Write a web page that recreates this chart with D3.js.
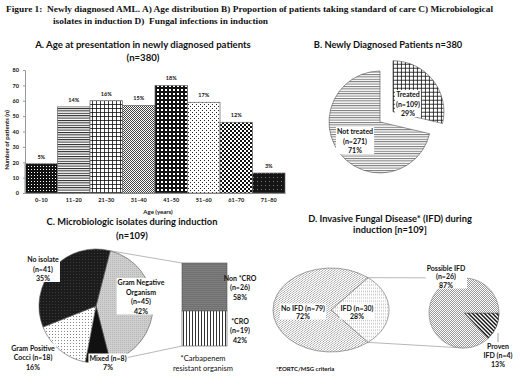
<!DOCTYPE html>
<html>
<head>
<meta charset="utf-8">
<script src="https://cdn.jsdelivr.net/npm/d3@7"></script>
<style>
  body { margin: 0; background: #fff; }
  svg { display: block; }
  text { font-family: Lato, "Open Sans", sans-serif; font-weight: bold; fill: #111; }
</style>
</head>
<body>
<svg id="chart"></svg>
<script>
// A. age distribution
const ageGroups = ["0–10", "11–20", "21–30", "31–40", "41–50", "51–60", "61–70", "71–80"];
const ageCounts = [19, 56, 60, 57, 70, 59, 46, 13];
const agePct = ["5%", "14%", "16%", "15%", "18%", "17%", "12%", "3%"];
const yTicks = [0, 10, 20, 30, 40, 50, 60, 70, 80];
// B. treated / not treated
const txLabels = ["Treated", "Not treated"];
const txCounts = [109, 271];
const txPct = ["29%", "71%"];
// C. microbiologic isolates
const isoLabels = ["Gram Negative Organism", "Mixed", "Gram Positive Cocci", "No isolate"];
const isoCounts = [45, 8, 18, 41];
const isoPct = [42, 7, 16, 35];
const croLabels = ["Non *CRO", "*CRO"];
const croCounts = [26, 19];
const croPct = [58, 42];
// D. invasive fungal disease
const ifdLabels = ["IFD", "No IFD"];
const ifdCounts = [30, 79];
const ifdPct = [28, 72];
const ifdTypeLabels = ["Proven IFD", "Possible IFD"];
const ifdTypeCounts = [4, 26];
const ifdTypePct = [13, 87];

const W = 520, H = 390;
const svg = d3.select("#chart").attr("width", W).attr("height", H);
svg.append("rect").attr("width", W).attr("height", H).attr("fill", "#fff");
const defs = svg.append("defs");

// small helper for fill patterns
function pattern(id, w, h, bg, shapes) {
    const p = defs.append("pattern").attr("id", id)
        .attr("patternUnits", "userSpaceOnUse")
        .attr("width", w).attr("height", h);
    p.append("rect").attr("width", w).attr("height", h).attr("fill", bg);
    shapes.forEach(s => {
        const el = p.append(s[0]);
        Object.entries(s[1]).forEach(([k, v]) => el.attr(k, v));
    });
}
pattern("dotsDark", 3, 3, "#111", [["rect", {x: 1, y: 1, width: 1, height: 1, fill: "#fff"}]]);
pattern("hlines", 2, 2.4, "#fff", [["rect", {x: 0, y: 0, width: 2, height: 1, fill: "#222"}]]);
pattern("grid", 4, 4, "#fff", [["rect", {x: 0, y: 0, width: 4, height: 0.8, fill: "#111"}], ["rect", {x: 0, y: 0, width: 0.8, height: 4, fill: "#111"}]]);
pattern("checkFine", 2, 2, "#fff", [["rect", {x: 0, y: 0, width: 1, height: 1, fill: "#444"}], ["rect", {x: 1, y: 1, width: 1, height: 1, fill: "#444"}]]);
pattern("plaid", 4, 4, "#111", [["rect", {x: 1, y: 1, width: 2, height: 2, fill: "#fff"}]]);
pattern("dotsSparse", 4, 4, "#fff", [["rect", {x: 0, y: 0, width: 1, height: 1, fill: "#222"}], ["rect", {x: 2, y: 2, width: 1, height: 1, fill: "#222"}]]);
pattern("checkLarge", 4, 4, "#fff", [["rect", {x: 0, y: 0, width: 2, height: 2, fill: "#111"}], ["rect", {x: 2, y: 2, width: 2, height: 2, fill: "#111"}]]);
pattern("dark", 4, 4, "#151515", [["rect", {x: 1, y: 1, width: 1, height: 1, fill: "#777"}]]);
pattern("hlinesGray", 2, 2.4, "#fff", [["rect", {x: 0, y: 0, width: 2, height: 1, fill: "#777"}]]);
pattern("noIso", 3, 3, "#1c1c1c", [["rect", {x: 1, y: 1, width: 1, height: 1, fill: "#3a3a3a"}]]);
pattern("gramNeg", 2, 2, "#cfcfcf", [["rect", {x: 0, y: 0, width: 1, height: 1, fill: "#b5b5b5"}]]);
pattern("gramPos", 3, 3, "#fff", [["rect", {x: 1, y: 1, width: 1, height: 1, fill: "#888"}]]);
pattern("nonCro", 3, 2, "#7e7e7e", [["rect", {x: 0, y: 0, width: 3, height: 1, fill: "#707070"}]]);
pattern("cro", 3, 3, "#fff", [["rect", {x: 0, y: 0, width: 1, height: 3, fill: "#333"}]]);
pattern("diagGray", 3, 3, "#fff", [["path", {d: "M-1,1 l2,-2 M0,3 l3,-3 M2,4 l2,-2", stroke: "#777", "stroke-width": 0.7}]]);
pattern("dotsLight", 2, 2, "#fff", [["rect", {x: 0, y: 0, width: 1, height: 1, fill: "#c8c8c8"}]]);
pattern("checkGray", 2, 2, "#fff", [["rect", {x: 0, y: 0, width: 1, height: 1, fill: "#9a9a9a"}], ["rect", {x: 1, y: 1, width: 1, height: 1, fill: "#9a9a9a"}]]);
pattern("stripes", 4, 4, "#fff", [["path", {d: "M-1,-1 l6,6 M3,-1 l2,2 M-1,3 l2,2", stroke: "#111", "stroke-width": 1.4}]]);

// multi-line text label, optionally on a white box
function label(g, x, y, lines, opt = {}) {
    const lh = opt.lh || 9.5;
    const grp = g.append("g");
    const t = grp.append("text")
        .attr("text-anchor", opt.anchor || "middle")
        .attr("font-size", opt.size || 7)
        .style("font-weight", opt.weight || "bold");
    lines.forEach((s, i) => t.append("tspan").attr("x", x).attr("y", y + i * lh).text(s));
    if (opt.box) {
        const b = t.node().getBBox();
        grp.insert("rect", "text")
            .attr("x", b.x - 1).attr("y", b.y)
            .attr("width", b.width + 2).attr("height", b.height)
            .attr("fill", "#fff");
    }
}
function explode(d, k) {
    const m = (d.startAngle + d.endAngle) / 2;
    return `translate(${k * Math.sin(m)},${-k * Math.cos(m)})`;
}
function outer(a, r, sy = 1) {
    return [r * Math.sin(a), -r * Math.cos(a) * sy];
}

// Figure caption
svg.append("text").attr("x", 6).attr("y", 12)
    .attr("font-size", 8.5).attr("textLength", 487).attr("lengthAdjust", "spacingAndGlyphs")
    .style("font-family", "'Liberation Serif', serif")
    .text("Figure 1:\u00A0\u00A0Newly diagnosed AML. A) Age distribution B) Proportion of patients taking standard of care C) Microbiological");
svg.append("text").attr("x", 53).attr("y", 24)
    .attr("font-size", 8.5).attr("textLength", 215).attr("lengthAdjust", "spacingAndGlyphs")
    .style("font-family", "'Liberation Serif', serif")
    .text("isolates in induction D)\u00A0\u00A0Fungal infections in induction");

// ---------- A. bar chart ----------
const agePatterns = ["dotsDark", "hlines", "grid", "checkFine", "plaid", "dotsSparse", "checkLarge", "dark"];
const x = d3.scaleBand().domain(ageGroups).range([25, 285]).padding(0);
const y = d3.scaleLinear().domain([0, 80]).range([193, 70]);
const gA = svg.append("g");
label(gA, 143, 48, ["A. Age at presentation in newly diagnosed patients", "(n=380)"], {size: 9.6, lh: 13});

gA.selectAll("rect.bar").data(ageGroups).join("rect").attr("class", "bar")
    .attr("x", d => x(d))
    .attr("y", (d, i) => y(ageCounts[i]))
    .attr("width", x.bandwidth())
    .attr("height", (d, i) => y(0) - y(ageCounts[i]))
    .attr("fill", (d, i) => `url(#${agePatterns[i]})`)
    .attr("stroke", "#666").attr("stroke-width", 0.7);
gA.selectAll("text.pct").data(ageGroups).join("text").attr("class", "pct")
    .attr("x", d => x(d) + x.bandwidth() / 2)
    .attr("y", (d, i) => y(ageCounts[i]) - 5)
    .attr("text-anchor", "middle").attr("font-size", 5.5)
    .text((d, i) => agePct[i]);

const yAxis = gA.append("g").attr("transform", "translate(25,0)")
    .call(d3.axisLeft(y).tickValues(yTicks).tickSize(2).tickPadding(4));
yAxis.attr("font-family", null).attr("font-size", 5.5);
yAxis.selectAll("text").attr("fill", "#111");
yAxis.select(".domain").attr("stroke", "#999");
yAxis.selectAll(".tick line").attr("stroke", "#999");
const xAxis = gA.append("g").attr("transform", "translate(0,193)")
    .call(d3.axisBottom(x).tickSize(0).tickPadding(5));
xAxis.attr("font-family", null).attr("font-size", 5.5);
xAxis.selectAll("text").attr("fill", "#111");
xAxis.select(".domain").attr("stroke", "#888");
gA.append("text").attr("transform", "translate(9,140) rotate(-90)")
    .attr("text-anchor", "middle").attr("font-size", 6).text("Number of patients (n)");
gA.append("text").attr("x", 158).attr("y", 214)
    .attr("text-anchor", "middle").attr("font-size", 6).text("Age (years)");

// ---------- B. pie ----------
const gB = svg.append("g");
label(gB, 388, 48, ["B. Newly Diagnosed Patients n=380"], {size: 9.3});
const pieB = d3.pie().sort(null).value(d => d)(txCounts);
const arcB = d3.arc().innerRadius(0).outerRadius(51);
const bPie = gB.append("g").attr("transform", "translate(380,122)");
bPie.selectAll("path").data(pieB).join("path")
    .attr("transform", (d, i) => i === 0 ? explode(d, 16.5) : null)
    .attr("d", arcB)
    .attr("fill", (d, i) => i === 0 ? "url(#grid)" : "url(#hlinesGray)")
    .attr("stroke", "#555").attr("stroke-width", 0.6);
label(gB, 408, 97, [txLabels[0], `(n=${txCounts[0]})`, txPct[0]], {box: true});
label(gB, 355, 134, [txLabels[1], `(n=${txCounts[1]})`, txPct[1]], {box: true});

// ---------- C. bar of pie ----------
const gC = svg.append("g");
label(gC, 132, 225, ["C. Microbiologic isolates during induction", "(n=109)"], {size: 9.3, lh: 14});
const gnAng = isoPct[0] / 100 * 2 * Math.PI;
const cStart = Math.PI / 2 - gnAng / 2;
const pieC = d3.pie().sort(null).value(d => d).startAngle(cStart).endAngle(cStart + 2 * Math.PI)(isoPct);
const rC = 57, cx = 96, cy = 306;
const arcC = d3.arc().innerRadius(0).outerRadius(rC);
const isoFills = ["gramNeg", "mixed", "gramPos", "noIso"];
const cPie = gC.append("g").attr("transform", `translate(${cx},${cy})`);
cPie.selectAll("path").data(pieC).join("path")
    .attr("d", arcC)
    .attr("fill", (d, i) => isoFills[i] === "mixed" ? "#111" : `url(#${isoFills[i]})`)
    .attr("stroke", "#555").attr("stroke-width", 0.6);

// stacked bar for gram negative
const barX = 182, barW = 45;
const yBar = d3.scaleLinear().domain([0, d3.sum(croCounts)]).range([346, 263]);
const croStack = [
    {key: "nonCro", lo: croCounts[1], hi: croCounts[1] + croCounts[0]},
    {key: "cro", lo: 0, hi: croCounts[1]}
];
gC.selectAll("rect.cro").data(croStack).join("rect").attr("class", "cro")
    .attr("x", barX).attr("width", barW)
    .attr("y", d => yBar(d.hi)).attr("height", d => yBar(d.lo) - yBar(d.hi))
    .attr("fill", d => `url(#${d.key})`).attr("stroke", "#555").attr("stroke-width", 0.6);
const gn = pieC[0];
const pTop = outer(gn.startAngle, rC), pBot = outer(gn.endAngle, rC);
gC.append("line").attr("x1", cx + pTop[0]).attr("y1", cy + pTop[1]).attr("x2", barX).attr("y2", yBar(d3.sum(croCounts)))
    .attr("stroke", "#888").attr("stroke-width", 0.6);
gC.append("line").attr("x1", cx + pBot[0]).attr("y1", cy + pBot[1]).attr("x2", barX).attr("y2", yBar(0))
    .attr("stroke", "#888").attr("stroke-width", 0.6);

label(gC, 43, 262, ["No isolate", `(n=${isoCounts[3]})`, isoPct[3] + "%"], {box: true});
label(gC, 141, 285, ["Gram Negative", "Organism", `(n=${isoCounts[0]})`, isoPct[0] + "%"], {box: true});
label(gC, 33, 350.5, ["Gram Positive", `Cocci (n=${isoCounts[2]})`, isoPct[2] + "%"], {box: true});
label(gC, 108, 360.5, [`Mixed (n=${isoCounts[1]})`, isoPct[1] + "%"], {box: true});
label(gC, 240, 280.5, [croLabels[0], `(n=${croCounts[0]})`, croPct[0] + "%"]);
label(gC, 240, 323.5, [croLabels[1], `(n=${croCounts[1]})`, croPct[1] + "%"]);
label(gC, 203, 360.5, ["*Carbapenem", "resistant organism"], {weight: "normal", size: 7.5, lh: 10});

// ---------- D. pie of pie ----------
const gD = svg.append("g");
label(gD, 390, 222, ["D. Invasive Fungal Disease* (IFD) during", "induction [n=109]"], {size: 9.3, lh: 11});
const ifdAng = ifdPct[0] / 100 * 2 * Math.PI;
const dStart = Math.PI / 2 - ifdAng / 2;
const pieD = d3.pie().sort(null).value(d => d).startAngle(dStart).endAngle(dStart + 2 * Math.PI)(ifdPct);
const rxD = 58, ryD = 42, dx = 331, dy = 310;
const arcD = d3.arc().innerRadius(0).outerRadius(rxD);
const dPie = gD.append("g").attr("transform", `translate(${dx},${dy}) scale(1,${ryD / rxD})`);
dPie.selectAll("path").data(pieD).join("path")
    .attr("d", arcD)
    .attr("fill", (d, i) => i === 0 ? "url(#dotsLight)" : "url(#diagGray)")
    .attr("stroke", "#666").attr("stroke-width", 0.6).attr("vector-effect", "non-scaling-stroke");

const rD2 = 35, dx2 = 464, dy2 = 313;
const pieD2 = d3.pie().sort(null).value(d => d).startAngle(Math.PI / 2).endAngle(Math.PI / 2 + 2 * Math.PI)(ifdTypePct);
const arcD2 = d3.arc().innerRadius(0).outerRadius(rD2);
const ifdSlice = pieD[0];
const qTop = outer(ifdSlice.startAngle, rxD, ryD / rxD), qBot = outer(ifdSlice.endAngle, rxD, ryD / rxD);
gD.append("line").attr("x1", dx + qTop[0]).attr("y1", dy + qTop[1]).attr("x2", dx2).attr("y2", dy2 - rD2)
    .attr("stroke", "#888").attr("stroke-width", 0.6);
gD.append("line").attr("x1", dx + qBot[0]).attr("y1", dy + qBot[1]).attr("x2", dx2).attr("y2", dy2 + rD2)
    .attr("stroke", "#888").attr("stroke-width", 0.6);
const dPie2 = gD.append("g").attr("transform", `translate(${dx2},${dy2})`);
dPie2.selectAll("path").data(pieD2).join("path")
    .attr("d", arcD2)
    .attr("fill", (d, i) => i === 0 ? "url(#stripes)" : "url(#checkGray)")
    .attr("stroke", (d, i) => i === 0 ? "#111" : "#777").attr("stroke-width", 0.6);

label(gD, 303, 310.5, [`${ifdLabels[1]} (n=${ifdCounts[1]})`, ifdPct[1] + "%"], {box: true, lh: 8});
label(gD, 357, 310.5, [`${ifdLabels[0]} (n=${ifdCounts[0]})`, ifdPct[0] + "%"], {box: true, lh: 8});
label(gD, 446, 270.5, ["Possible IFD", `(n=${ifdTypeCounts[1]})`, ifdTypePct[1] + "%"], {box: true, lh: 8.5});
gD.append("line").attr("x1", 498).attr("y1", 333).attr("x2", 498).attr("y2", 342)
    .attr("stroke", "#666").attr("stroke-width", 0.6);
label(gD, 498, 348.5, ["Proven", `IFD (n=${ifdTypeCounts[0]})`, ifdTypePct[0] + "%"], {lh: 9});
label(gD, 276, 370.5, ["*EORTC/MSG criteria"], {anchor: "start", size: 6});
</script>
</body>
</html>
